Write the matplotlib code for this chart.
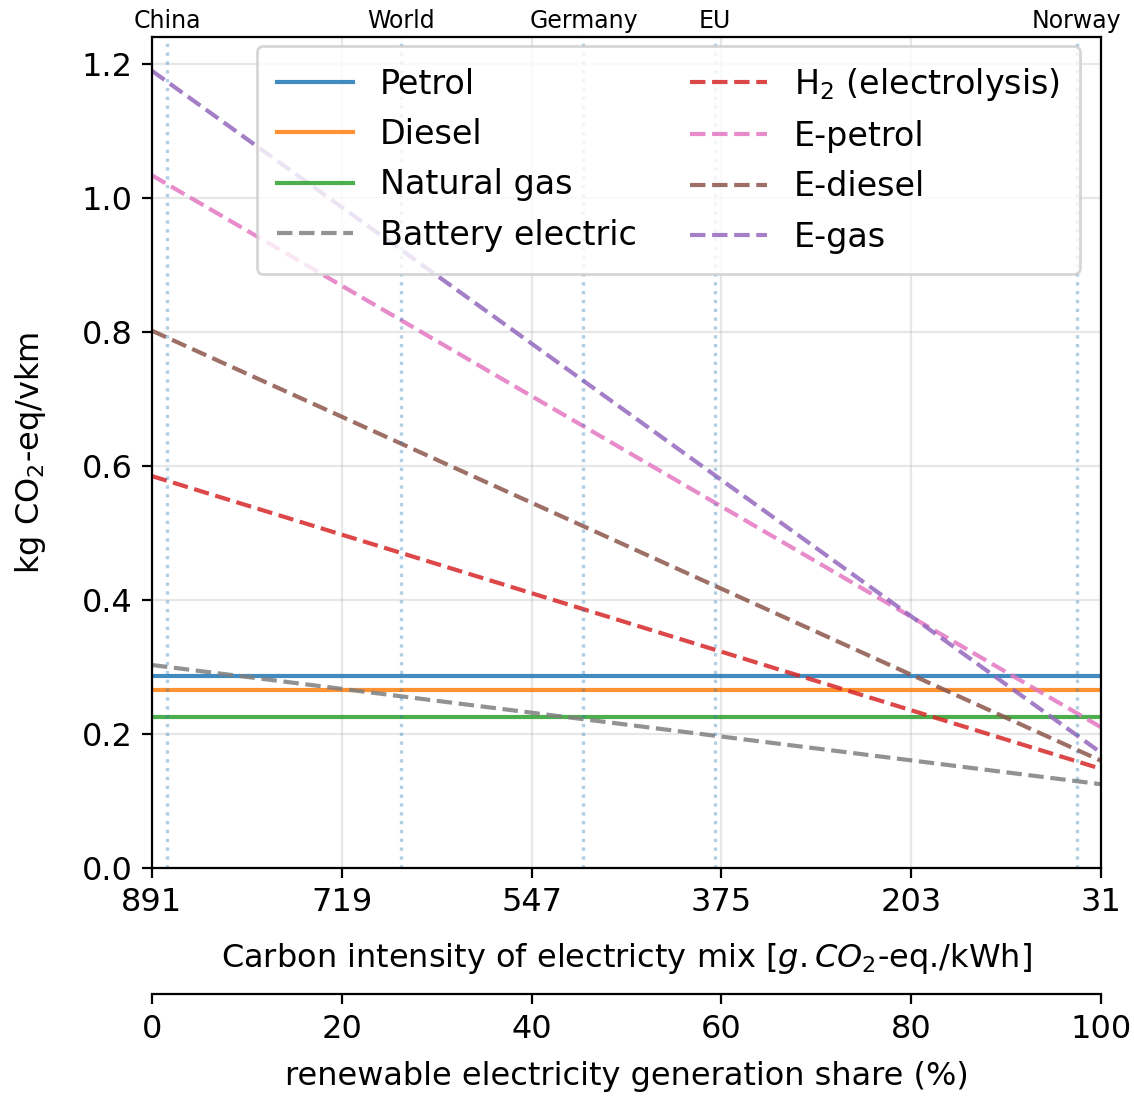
import numpy as np
import matplotlib
matplotlib.use('Agg')
from matplotlib import pyplot as plt

# carbon intensity of the electricity mix at both ends of the axis
CI = [891, 31]

# flat values for conventional fuels
PETROL = 0.286
DIESEL = 0.266
NATGAS = 0.226

# electricity dependent pathways: value at CI[0], value at CI[1]
BATTERY = [0.303, 0.125]
H2 = [0.585, 0.148]
EPETROL = [1.034, 0.210]
EDIESEL = [0.802, 0.160]
EGAS = [1.190, 0.172]

COUNTRIES = ['China', 'World', 'Germany', 'EU', 'Norway']
COUNTRY_CI = [877, 665, 500, 381, 53]

XTICKS = [891, 719, 547, 375, 203, 31]
SHARE_TICKS = [0, 20, 40, 60, 80, 100]

plt.rcParams['font.size'] = 11.5


def ci_to_share(x):
    return (CI[0] - np.asarray(x, dtype=float)) / (CI[0] - CI[1]) * 100.


def share_to_ci(s):
    return CI[0] - np.asarray(s, dtype=float) / 100. * (CI[0] - CI[1])


fig = plt.figure(figsize=(5.67, 5.49), dpi=200)
ax = fig.add_axes([0.134, 0.2095, 0.837, 0.7565])

a = 0.85
ax.plot(CI, [PETROL, PETROL], color='tab:blue', alpha=a, label='Petrol')
ax.plot(CI, [DIESEL, DIESEL], color='tab:orange', alpha=a, label='Diesel')
ax.plot(CI, [NATGAS, NATGAS], color='tab:green', alpha=a, label='Natural gas')
ax.plot(CI, BATTERY, '--', color='tab:gray', alpha=a, label='Battery electric')
ax.plot(CI, H2, '--', color='tab:red', alpha=a, label='H$_2$ (electrolysis)')
ax.plot(CI, EPETROL, '--', color='tab:pink', alpha=a, label='E-petrol')
ax.plot(CI, EDIESEL, '--', color='tab:brown', alpha=a, label='E-diesel')
ax.plot(CI, EGAS, '--', color='tab:purple', alpha=a, label='E-gas')

for name, x in zip(COUNTRIES, COUNTRY_CI):
    ax.axvline(x, ls=':', color='tab:blue', alpha=0.35, lw=1.2)
    ax.text(x, 1.005, name, transform=ax.get_xaxis_transform(),
            ha='center', va='bottom', fontsize=8.5)

ax.set_xlim(CI[0], CI[1])
ax.set_ylim(0, 1.24)
ax.set_xticks(XTICKS)
ax.set_yticks(np.arange(0, 1.21, 0.2))
ax.grid(alpha=0.3)
ax.set_xlabel('Carbon intensity of electricty mix [$g.CO_2$-eq./kWh]', labelpad=8)
ax.set_ylabel('kg CO$_2$-eq/vkm', labelpad=12)
ax.legend(ncol=2, loc='upper right', bbox_to_anchor=(0.995, 1.01),
          fontsize=12, columnspacing=1.6, handlelength=2.3,
          borderpad=0.6, labelspacing=0.52)

sec = ax.secondary_xaxis(-0.152, functions=(ci_to_share, share_to_ci))
sec.set_xticks(SHARE_TICKS)
sec.set_xlabel('renewable electricity generation share (%)', labelpad=6)

plt.savefig('out.png')
